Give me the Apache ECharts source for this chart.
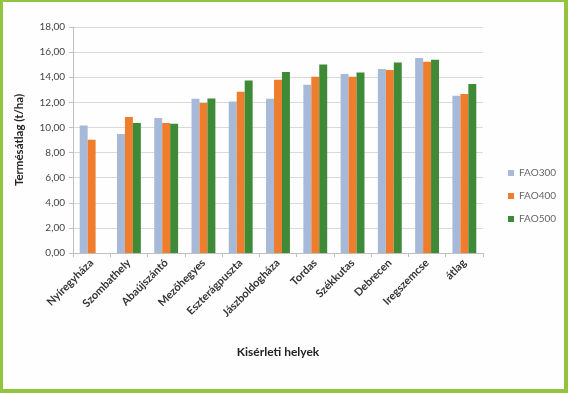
<!DOCTYPE html>
<html><head><meta charset="utf-8">
<script src="https://cdn.jsdelivr.net/npm/echarts@6/dist/echarts.min.js"></script>
<style>
html,body{margin:0;padding:0;background:#fff;}
#frame{position:absolute;left:0;top:0;width:568px;height:393px;box-sizing:border-box;border-style:solid;border-color:#92c440;border-width:2px 4px 4px 3px;background:#fefefe;}
#chart{position:absolute;left:0;top:0;width:568px;height:393px;}
</style></head>
<body><div id="frame"></div><div id="chart"></div>
<script>
const categories = ['Nyíregyháza','Szombathely','Abaújszántó','Mezőhegyes','Eszterágpuszta','Jászboldogháza','Tordas','Székkutas','Debrecen','Iregszemcse','átlag'];
const seriesNames = ['FAO300','FAO400','FAO500'];
const fao300 = [10.16, 9.47, 10.75, 12.28, 12.07, 12.28, 13.40, 14.25, 14.65, 15.53, 12.52];
const fao400 = [9.02, 10.83, 10.35, 11.94, 12.84, 13.80, 14.04, 14.04, 14.57, 15.23, 12.66];
const fao500 = [null, 10.35, 10.30, 12.31, 13.74, 14.41, 15.02, 14.38, 15.18, 15.39, 13.46];
const colors = ['#a6b9d8', '#ee7d2e', '#3f8a36'];
const fontFam = 'Lato, "Open Sans", sans-serif';

const chart = echarts.init(document.getElementById('chart'));
const data = [fao300, fao400, fao500];
chart.setOption({
  animation: false,
  backgroundColor: 'transparent',
  grid: {left: 73, right: 85, top: 27, bottom: 140},
  legend: {
    orient: 'vertical', left: 503, top: 163, itemWidth: 6, itemHeight: 6, itemGap: 13,
    icon: 'rect',
    textStyle: {fontSize: 10, color: '#666', fontFamily: fontFam},
    data: seriesNames
  },
  xAxis: {
    type: 'category', data: categories,
    name: 'Kisérleti helyek', nameLocation: 'middle', nameGap: 93,
    nameTextStyle: {fontSize: 12, fontWeight: 'bold', color: '#222', fontFamily: fontFam},
    axisLine: {lineStyle: {color: '#bfbfbf'}},
    axisTick: {show: true, length: 4, lineStyle: {color: '#bfbfbf'}},
    axisLabel: {rotate: 45, fontSize: 11, fontWeight: 'bold', color: '#333', fontFamily: fontFam, margin: 8, interval: 0}
  },
  yAxis: {
    type: 'value', min: 0, max: 18, interval: 2,
    name: 'Termésátlag (t/ha)', nameLocation: 'middle', nameGap: 48,
    nameTextStyle: {fontSize: 11.5, fontWeight: 'bold', color: '#222', fontFamily: fontFam},
    axisLine: {show: true, lineStyle: {color: '#bfbfbf'}},
    axisTick: {show: true, length: 4, lineStyle: {color: '#bfbfbf'}},
    splitLine: {lineStyle: {color: '#d9d9d9'}},
    axisLabel: {fontSize: 10, color: '#444', fontFamily: fontFam, margin: 8,
      formatter: v => v.toFixed(2).replace('.', ',')}
  },
  series: seriesNames.map((n, i) => ({
    name: n, type: 'bar', data: data[i],
    itemStyle: {color: colors[i]},
    barGap: '0%', barCategoryGap: '36%'
  }))
});
</script></body></html>
